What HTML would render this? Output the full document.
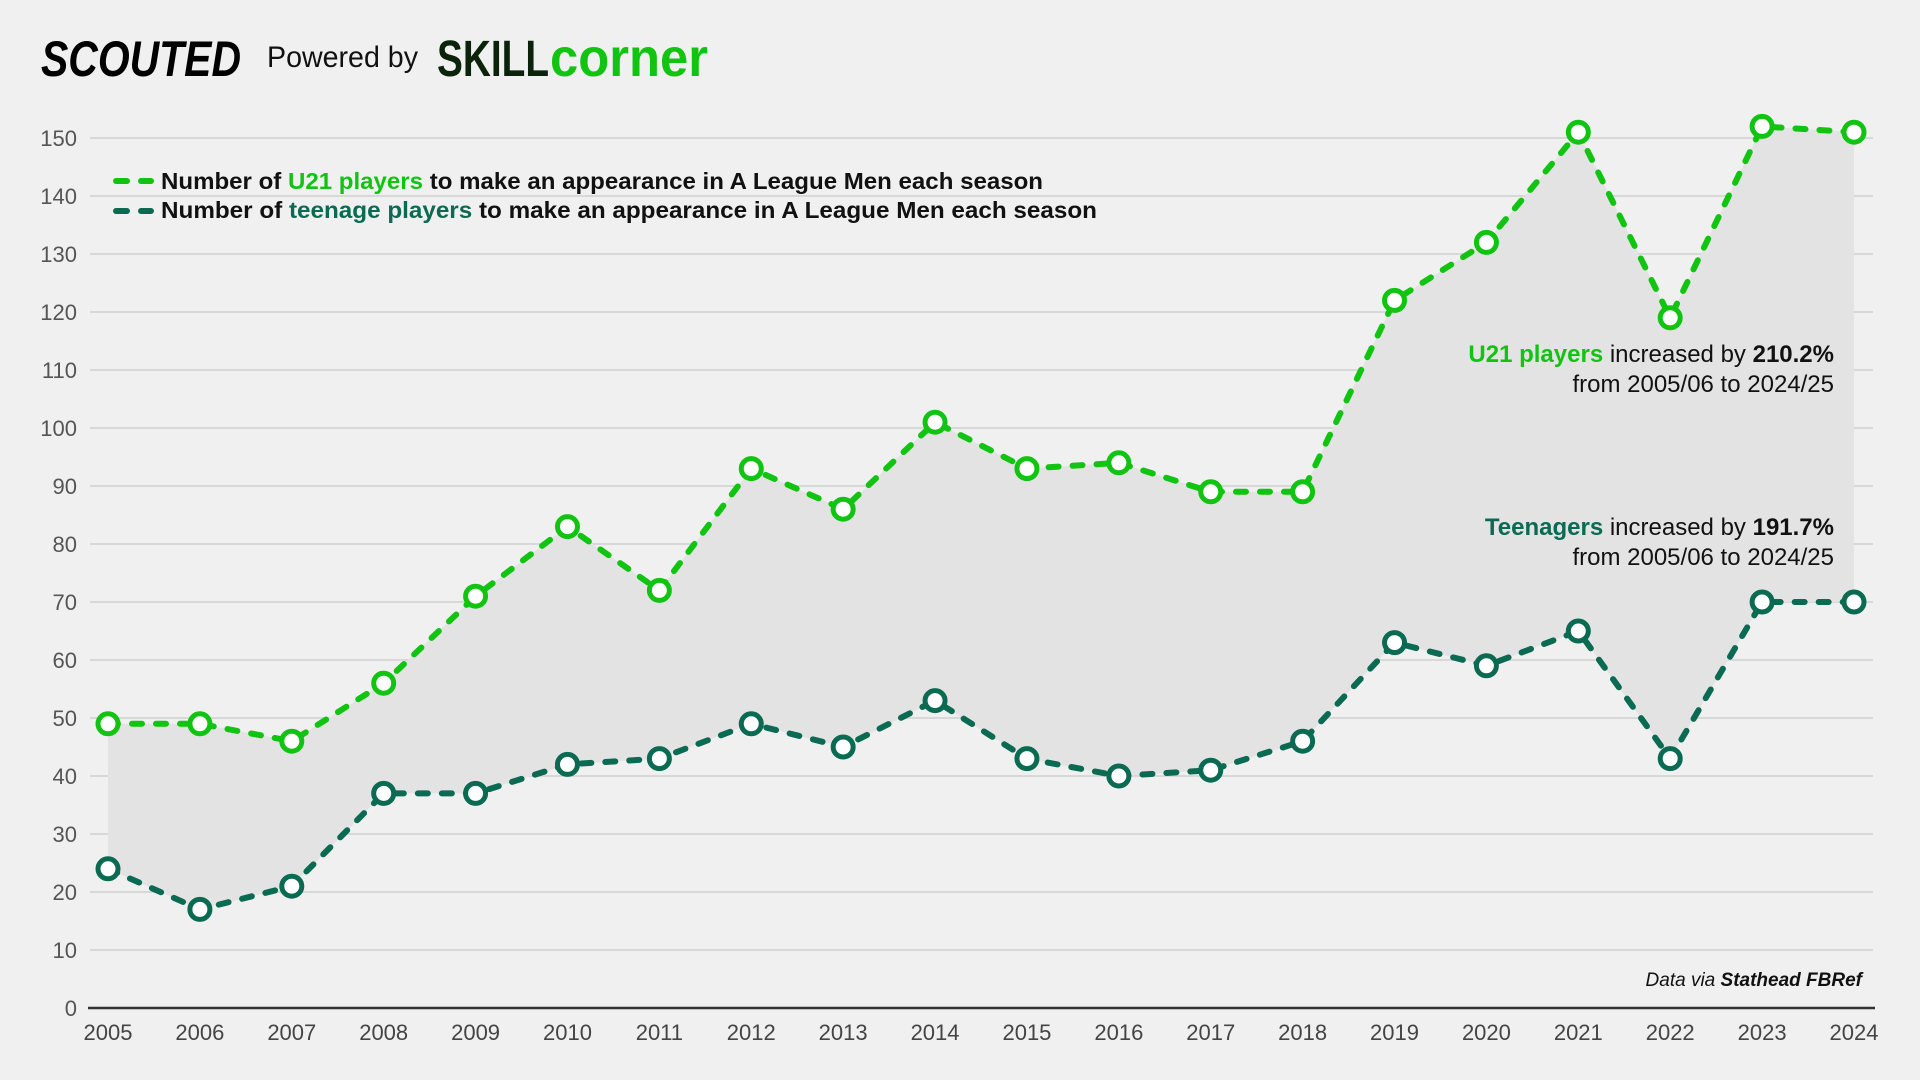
<!DOCTYPE html>
<html><head><meta charset="utf-8"><style>
html,body{margin:0;padding:0;background:#f0f0f1;}
svg{display:block;font-family:"Liberation Sans",sans-serif;}
</style></head><body>
<svg id="chart" width="1920" height="1080" viewBox="0 0 1920 1080" xmlns="http://www.w3.org/2000/svg">
<rect width="1920" height="1080" fill="#f0f0f1"/>
<g>
  <text x="41" y="76" font-size="50" font-weight="bold" font-style="italic" fill="#000" textLength="200" lengthAdjust="spacingAndGlyphs">SCOUTED</text>
  <text x="267" y="67" font-size="30" fill="#111" textLength="151" lengthAdjust="spacingAndGlyphs">Powered by</text>
  <text x="437" y="76" font-size="51" font-weight="bold" fill="#0a230a" textLength="112" lengthAdjust="spacingAndGlyphs">SKILL</text>
  <text x="550" y="76" font-size="54" font-weight="bold" fill="#11c411" textLength="158" lengthAdjust="spacingAndGlyphs">corner</text>
</g>
<g id="grid"></g>
<path id="area" fill="#e3e3e4"/>
<line x1="88" x2="1875" y1="1008" y2="1008" stroke="#333" stroke-width="2.5"/>
<g id="xticks"></g>
<g id="series"></g>
<g>
  <line x1="116" x2="151" y1="181" y2="181" stroke="#11c411" stroke-width="6" stroke-linecap="round" stroke-dasharray="11 14"/>
  <text x="161" y="189" font-size="23" font-weight="bold" fill="#111" textLength="882" lengthAdjust="spacingAndGlyphs">Number of <tspan fill="#11c411">U21 players</tspan> to make an appearance in A League Men each season</text>
  <line x1="116" x2="151" y1="211" y2="211" stroke="#0a6a52" stroke-width="6" stroke-linecap="round" stroke-dasharray="11 14"/>
  <text x="161" y="218" font-size="23" font-weight="bold" fill="#111" textLength="936" lengthAdjust="spacingAndGlyphs">Number of <tspan fill="#0a6a52">teenage players</tspan> to make an appearance in A League Men each season</text>
</g>
<g font-size="24" fill="#111" text-anchor="end">
  <text x="1834" y="362"><tspan fill="#11c411" font-weight="bold">U21 players</tspan> increased by <tspan font-weight="bold">210.2%</tspan></text>
  <text x="1834" y="392">from 2005/06 to 2024/25</text>
  <text x="1834" y="535"><tspan fill="#0a6a52" font-weight="bold">Teenagers</tspan> increased by <tspan font-weight="bold">191.7%</tspan></text>
  <text x="1834" y="565">from 2005/06 to 2024/25</text>
</g>
<text x="1862" y="986" font-size="19" font-style="italic" fill="#111" text-anchor="end">Data via <tspan font-weight="bold">Stathead FBRef</tspan></text>
</svg>
<script>
const years = [2005,2006,2007,2008,2009,2010,2011,2012,2013,2014,2015,2016,2017,2018,2019,2020,2021,2022,2023,2024];
const u21Values = [49,49,46,56,71,83,72,93,86,101,93,94,89,89,122,132,151,119,152,151];
const teenValues = [24,17,21,37,37,42,43,49,45,53,43,40,41,46,63,59,65,43,70,70];
const yTicks = [0,10,20,30,40,50,60,70,80,90,100,110,120,130,140,150];
const NS = 'http://www.w3.org/2000/svg';
function xScale(i){ return 108 + i * (1854 - 108) / (years.length - 1); }
function yScale(v){ return 1008 - v * 5.8; }
function mk(tag, attrs, parent){ const e = document.createElementNS(NS, tag); for (const k in attrs) e.setAttribute(k, attrs[k]); parent.appendChild(e); return e; }
const grid = document.getElementById('grid');
yTicks.forEach(t => {
  if (t > 0) {
    const l = mk('line', {x1: 90, x2: 1873, y1: yScale(t), y2: yScale(t), stroke: '#d8d8d9', 'stroke-width': 2}, grid);
    
    
  }
  const tx = mk('text', {x: 77, y: yScale(t) + 8, 'font-size': 22, fill: '#555', 'text-anchor': 'end'}, grid);
  tx.textContent = t;
  
  
});
const xt = document.getElementById('xticks');
years.forEach((y, i) => {
  const tx = mk('text', {x: xScale(i), y: 1040, 'font-size': 22, fill: '#444', 'text-anchor': 'middle'}, xt);
  tx.textContent = y;
  
  
});
let d = '';
u21Values.forEach((v, i) => { d += (i ? 'L' : 'M') + xScale(i) + ',' + yScale(v); });
for (let i = teenValues.length - 1; i >= 0; i--) d += 'L' + xScale(i) + ',' + yScale(teenValues[i]);
document.getElementById('area').setAttribute('d', d + 'Z');
const sg = document.getElementById('series');
function drawSeries(vals, color, name){
  const pts = vals.map((v, i) => xScale(i) + ',' + yScale(v)).join(' ');
  const pl = mk('polyline', {points: pts, fill: 'none', stroke: color, 'stroke-width': 6, 'stroke-linecap': 'round', 'stroke-dasharray': '10 14'}, sg);
  
  
  vals.forEach((v, i) => {
    const c = mk('circle', {cx: xScale(i), cy: yScale(v), r: 10, fill: '#fff', stroke: color, 'stroke-width': 5}, sg);
    
    
  });
}
drawSeries(u21Values, '#11c411', 'u21');
drawSeries(teenValues, '#0a6a52', 'teen');
</script>
</body></html>
